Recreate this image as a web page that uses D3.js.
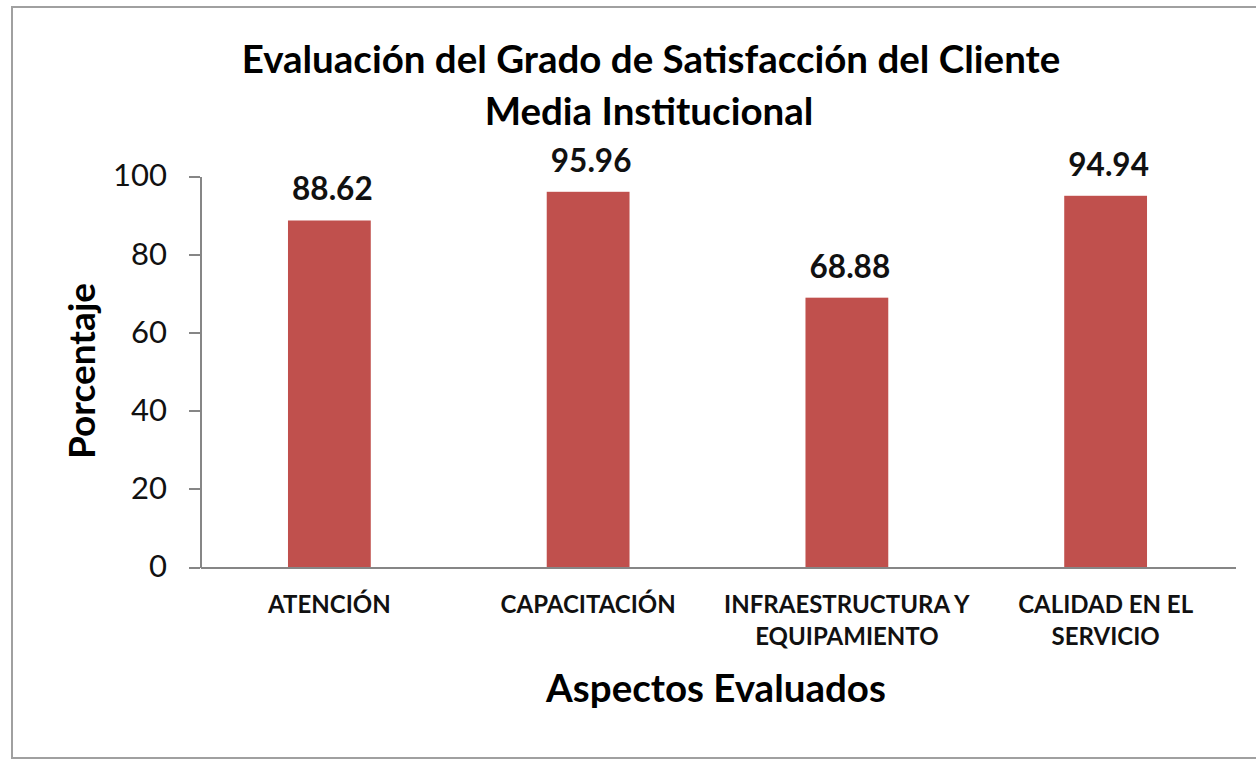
<!DOCTYPE html>
<html lang="es">
<head>
  <meta charset="UTF-8">
  <title>Satisfacción del Cliente</title>
  <script src="https://cdn.jsdelivr.net/npm/d3@7/dist/d3.min.js"></script>
  <style>
    body { margin: 0; background: #fff; }
    svg { display: block; font-family: Lato, "Open Sans", sans-serif; }
    .y-axis path, .y-axis line, .x-axis path { stroke: #868686; stroke-width: 2; shape-rendering: crispEdges; }
    .y-axis text { font-family: Lato, sans-serif; font-size: 31px; fill: #111; }
    .x-axis text { font-family: Lato, sans-serif; font-size: 24px; font-weight: bold; fill: #111; }
  </style>
</head>
<body>
<svg width="1256" height="759"></svg>
<script>
  // datos del gráfico
  const categories = ["ATENCIÓN", "CAPACITACIÓN", "INFRAESTRUCTURA Y EQUIPAMIENTO", "CALIDAD EN EL SERVICIO"];
  const categoryLines = [["ATENCIÓN"], ["CAPACITACIÓN"], ["INFRAESTRUCTURA Y", "EQUIPAMIENTO"], ["CALIDAD EN EL", "SERVICIO"]];
  const values = [88.62, 95.96, 68.88, 94.94];
  const yTicks = [0, 20, 40, 60, 80, 100];

  const svg = d3.select("svg");

  // borde del área del gráfico
  svg.append("rect")
    .attr("x", 12).attr("y", 7)
    .attr("width", 1262).attr("height", 751)
    .attr("fill", "none")
    .attr("stroke", "#a0a0a0")
    .attr("stroke-width", 2);

  const x = d3.scaleBand()
    .domain(categories)
    .range([200, 1235])
    .paddingInner(0.68)
    .paddingOuter(0.34);

  const y = d3.scaleLinear()
    .domain([0, 100])
    .range([567, 176]);

  // eje Y
  svg.append("g")
    .attr("class", "y-axis")
    .attr("transform", "translate(200,0)")
    .call(d3.axisLeft(y).tickValues(yTicks).tickSize(11).tickSizeOuter(0).tickPadding(22))
    .attr("font-family", null);

  // barras
  svg.selectAll("rect.bar")
    .data(values)
    .join("rect")
    .attr("class", "bar")
    .attr("x", (d, i) => x(categories[i]))
    .attr("y", d => y(d))
    .attr("width", x.bandwidth())
    .attr("height", d => y(0) - y(d))
    .attr("fill", "#c0504d");

  // etiquetas de datos
  svg.selectAll("text.val")
    .data(values)
    .join("text")
    .attr("class", "val")
    .attr("x", (d, i) => x(categories[i]) + x.bandwidth() / 2 + 3)
    .attr("y", d => y(d) - 20)
    .attr("text-anchor", "middle")
    .attr("font-size", 31.5)
    .attr("font-weight", "bold")
    .attr("fill", "#111")
    .text(d => d.toFixed(2));

  // eje X
  const gX = svg.append("g")
    .attr("class", "x-axis")
    .attr("transform", "translate(0,567)")
    .call(d3.axisBottom(x).tickSize(0).tickSizeOuter(0))
    .attr("font-family", null);

  gX.selectAll(".tick text").each(function (d, i) {
    const t = d3.select(this).text(null).attr("y", 0).attr("dy", null);
    categoryLines[i].forEach((line, k) => {
      t.append("tspan").attr("x", 0).attr("y", 46 + k * 32).text(line);
    });
  });

  // títulos
  svg.append("text")
    .attr("x", 651).attr("y", 73)
    .attr("text-anchor", "middle")
    .attr("font-size", 38.5).attr("font-weight", "bold")
    .text("Evaluación del Grado de Satisfacción del Cliente");

  svg.append("text")
    .attr("x", 649).attr("y", 125)
    .attr("text-anchor", "middle")
    .attr("font-size", 38.5).attr("font-weight", "bold")
    .text("Media Institucional");

  svg.append("text")
    .attr("transform", "translate(95,371) rotate(-90)")
    .attr("text-anchor", "middle")
    .attr("font-size", 37).attr("font-weight", "bold")
    .text("Porcentaje");

  svg.append("text")
    .attr("x", 716).attr("y", 702)
    .attr("text-anchor", "middle")
    .attr("font-size", 38.5).attr("font-weight", "bold")
    .text("Aspectos Evaluados");
</script>
</body>
</html>
